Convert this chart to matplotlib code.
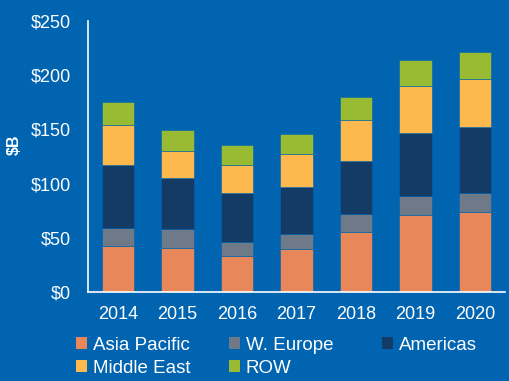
import matplotlib.pyplot as plt
from matplotlib.patches import Patch
import numpy as np

plt.rcParams['font.family'] = ['Liberation Sans', 'DejaVu Sans']

years = ['2014', '2015', '2016', '2017', '2018', '2019', '2020']
asia_pacific = [42.4, 40.6, 33.2, 39.7, 55.1, 71.3, 74.1]
w_europe = [16.3, 17.2, 12.9, 13.8, 16.6, 17.3, 16.9]
americas = [58.7, 47.4, 45.5, 43.4, 49.4, 58.1, 61.2]
middle_east = [36.6, 24.8, 25.8, 30.4, 37.9, 43.3, 44.6]
row = [21.3, 19.1, 17.9, 18.5, 20.9, 23.7, 24.6]

series = [
    ('Asia Pacific', asia_pacific, '#E8885A'),
    ('W. Europe', w_europe, '#6E7A88'),
    ('Americas', americas, '#133B66'),
    ('Middle East', middle_east, '#FDB94D'),
    ('ROW', row, '#99BB33'),
]

bg = '#0064B1'
fig = plt.figure(figsize=(5.1, 3.81), dpi=100, facecolor=bg)
ax = fig.add_axes([0.1725, 0.2336, 0.8175, 0.7113], facecolor=bg)

x = np.arange(len(years))
bottom = np.zeros(len(years))
handles = {}
for name, vals, col in series:
    ax.bar(x, vals, 0.545, bottom=bottom, color=col, edgecolor=bg, linewidth=0.4)
    bottom += np.array(vals)
    handles[name] = Patch(facecolor=col, label=name)

ax.set_xlim(-0.5, 6.5)
ax.set_ylim(0, 250)
ax.set_xticks(x)
ax.set_xticklabels(years)
ax.set_yticks(np.arange(0, 251, 50))
ax.set_yticklabels([f'${v}' for v in range(0, 251, 50)])
ax.tick_params(axis='both', length=0, colors='white', labelsize=13)
ax.tick_params(axis='y', pad=12)
ax.tick_params(axis='x', pad=10)
for s in ['top', 'right']:
    ax.spines[s].set_visible(False)
for s in ['left', 'bottom']:
    ax.spines[s].set_color('white')
    ax.spines[s].set_linewidth(1.2)

fig.text(0.028, 0.62, '$B', rotation=90, color='white', fontsize=11.5,
         fontweight='bold', ha='center', va='center')

# legend laid out in fixed-width columns like the original
columns = [['Asia Pacific', 'Middle East'], ['W. Europe', 'ROW'], ['Americas']]
col_x = [76 / 510, 229 / 510, 382 / 510]
for names, cx in zip(columns, col_x):
    leg = fig.legend([handles[n] for n in names], names, loc='upper left',
                     bbox_to_anchor=(cx, 1 - 337 / 381), frameon=False,
                     fontsize=13.5, handlelength=0.6, handleheight=0.6,
                     handletextpad=0.3, labelspacing=0.32, borderpad=0,
                     borderaxespad=0)
    for t in leg.get_texts():
        t.set_color('white')

fig.savefig('out.png', dpi=100, facecolor=bg)
